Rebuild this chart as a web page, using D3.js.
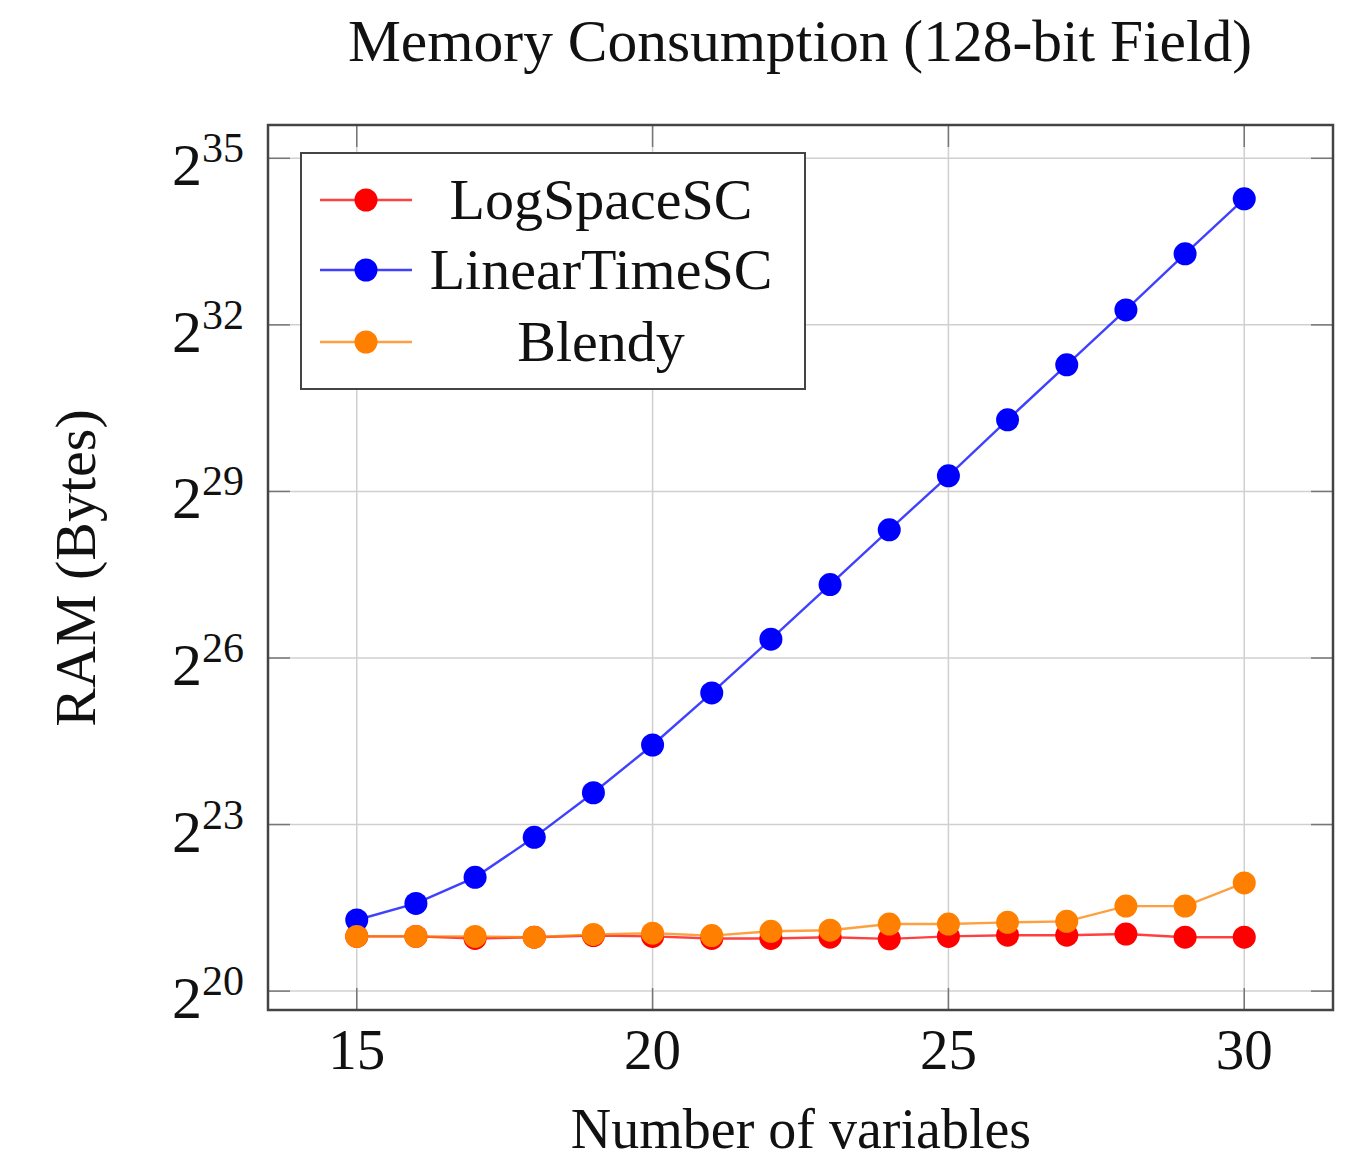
<!DOCTYPE html>
<html>
<head>
<meta charset="utf-8">
<script src="https://cdn.jsdelivr.net/npm/d3@7"></script>
<style>
  body { margin: 0; background: #fff; }
  text { font-family: "Liberation Serif", "DejaVu Serif", serif; fill: #111; }
</style>
</head>
<body>
<div id="chart"></div>
<script>
// number of variables
const vars = [15, 16, 17, 18, 19, 20, 21, 22, 23, 24, 25, 26, 27, 28, 29, 30];

// RAM in MiB
const logSpaceSC = [1.98, 1.98, 1.93, 1.96, 2.0, 1.98, 1.93, 1.93,
  1.96, 1.92, 1.98, 2.01, 2.01, 2.04, 1.96, 1.96];
const linearTimeSC = [2.43, 2.99, 4.14, 6.82, 11.9, 21.6, 41.4, 81,
  160, 317, 622, 1252, 2487, 4938, 9946, 19760];
const blendy = [1.98, 1.98, 1.98, 1.96, 2.03, 2.06, 2.0, 2.11,
  2.14, 2.31, 2.31, 2.36, 2.39, 2.89, 2.89, 3.86];

const xTicks = [15, 20, 25, 30];
const yTickExps = [20, 23, 26, 29, 32, 35];

const series = [
  { name: "LogSpaceSC", values: logSpaceSC, color: "#ff0000" },
  { name: "LinearTimeSC", values: linearTimeSC, color: "#0000ff" },
  { name: "Blendy", values: blendy, color: "#ff8000" },
];

const MiB = 1048576;
const width = 1348, height = 1161;
const margin = { left: 268, right: 15, top: 125, bottom: 151 };

const svg = d3.select("#chart").append("svg")
  .attr("width", width).attr("height", height);

const x = d3.scaleLinear().domain([13.5, 31.5])
  .range([margin.left, width - margin.right]);
const y = d3.scaleLog().base(2)
  .domain([Math.pow(2, 19.66), Math.pow(2, 35.6)])
  .range([height - margin.bottom, margin.top]);

const x0 = margin.left, x1 = width - margin.right;
const y0 = height - margin.bottom, y1 = margin.top;
const tickLen = 22;

// grid
let grid = svg.append("g").attr("stroke", "#d0d0d0").attr("stroke-width", 1.5);
xTicks.forEach(t => {
  grid.append("line").attr("x1", x(t)).attr("x2", x(t)).attr("y1", y0).attr("y2", y1);
});
yTickExps.forEach(e => {
  grid.append("line").attr("x1", x0).attr("x2", x1)
    .attr("y1", y(Math.pow(2, e))).attr("y2", y(Math.pow(2, e)));
});

// ticks inside, mirrored on both sides
let ticks = svg.append("g").attr("stroke", "#777").attr("stroke-width", 1.5);
xTicks.forEach(t => {
  ticks.append("line").attr("x1", x(t)).attr("x2", x(t)).attr("y1", y0).attr("y2", y0 - tickLen);
  ticks.append("line").attr("x1", x(t)).attr("x2", x(t)).attr("y1", y1).attr("y2", y1 + tickLen);
});
yTickExps.forEach(e => {
  let yy = y(Math.pow(2, e));
  ticks.append("line").attr("x1", x0).attr("x2", x0 + tickLen).attr("y1", yy).attr("y2", yy);
  ticks.append("line").attr("x1", x1).attr("x2", x1 - tickLen).attr("y1", yy).attr("y2", yy);
});

// lines and markers
const line = d3.line()
  .x((d, i) => x(vars[i]))
  .y(d => y(d * MiB));

series.forEach(s => {
  let g = svg.append("g");
  g.append("path")
    .attr("d", line(s.values))
    .attr("fill", "none")
    .attr("stroke", s.color)
    .attr("stroke-opacity", 0.75)
    .attr("stroke-width", 2.4);
  g.selectAll("circle")
    .data(s.values)
    .enter()
    .append("circle")
    .attr("cx", (d, i) => x(vars[i]))
    .attr("cy", d => y(d * MiB))
    .attr("r", 11.5)
    .attr("fill", s.color);
});

// frame
svg.append("rect")
  .attr("x", x0).attr("y", y1)
  .attr("width", x1 - x0).attr("height", y0 - y1)
  .attr("fill", "none").attr("stroke", "#444").attr("stroke-width", 2.5);

// x tick labels
svg.append("g").selectAll("text")
  .data(xTicks)
  .enter()
  .append("text")
  .attr("x", d => x(d))
  .attr("y", 1069)
  .attr("text-anchor", "middle")
  .attr("font-size", 57)
  .text(d => d);

// y tick labels: 2^n
let yl = svg.append("g").selectAll("text")
  .data(yTickExps)
  .enter()
  .append("text")
  .attr("x", 244)
  .attr("y", e => y(Math.pow(2, e)) + 27)
  .attr("text-anchor", "end")
  .attr("font-size", 60);
yl.append("tspan").text("2");
yl.append("tspan")
  .attr("font-size", 42)
  .attr("dy", -23)
  .text(e => e);

// title and axis labels
svg.append("text")
  .attr("x", 800).attr("y", 61)
  .attr("text-anchor", "middle")
  .attr("font-size", 59.5)
  .text("Memory Consumption (128-bit Field)");

svg.append("text")
  .attr("x", 801).attr("y", 1148)
  .attr("text-anchor", "middle")
  .attr("font-size", 56)
  .text("Number of variables");

svg.append("text")
  .attr("transform", "translate(95,568) rotate(-90)")
  .attr("text-anchor", "middle")
  .attr("font-size", 58)
  .text("RAM (Bytes)");

// legend
let legend = svg.append("g");
legend.append("rect")
  .attr("x", 301).attr("y", 153)
  .attr("width", 504).attr("height", 236)
  .attr("fill", "#fff").attr("stroke", "#444").attr("stroke-width", 2);

const legendY = [200, 270, 342];
series.forEach((s, i) => {
  let ly = legendY[i];
  legend.append("line")
    .attr("x1", 320).attr("x2", 412).attr("y1", ly).attr("y2", ly)
    .attr("stroke", s.color).attr("stroke-opacity", 0.75).attr("stroke-width", 2.4);
  legend.append("circle")
    .attr("cx", 366).attr("cy", ly).attr("r", 11.5).attr("fill", s.color);
  legend.append("text")
    .attr("x", 601).attr("y", ly + 19)
    .attr("text-anchor", "middle")
    .attr("font-size", 58)
    .text(s.name);
});
</script>
</body>
</html>
